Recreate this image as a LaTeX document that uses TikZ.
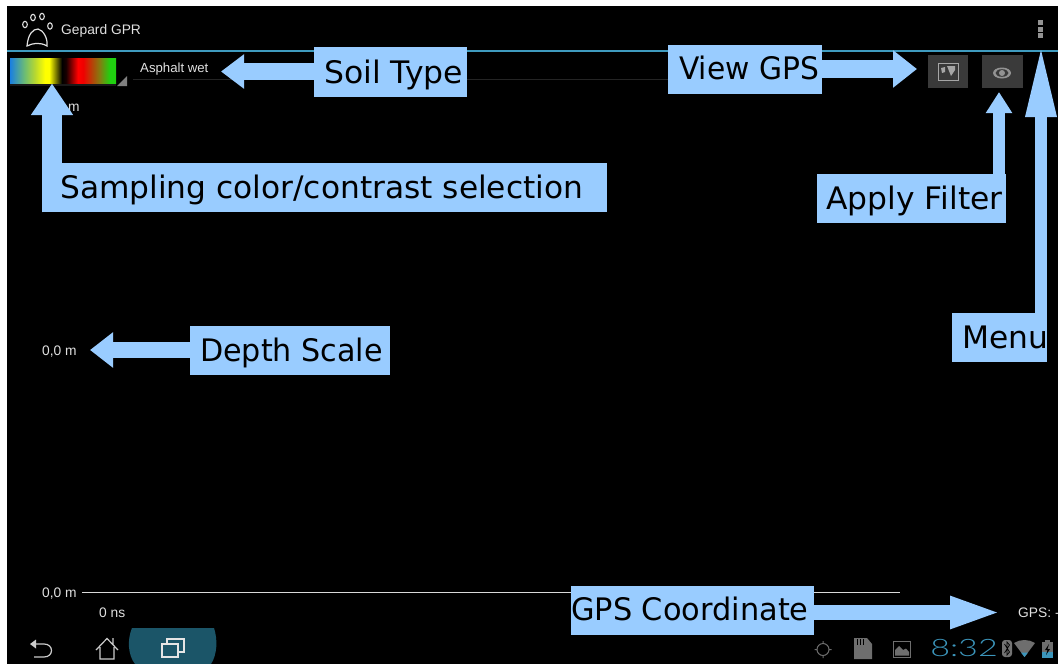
\documentclass[tikz,border=0pt]{standalone}
\usepackage{fontspec}
\usepackage{graphicx}
\setmainfont{DejaVu Sans}
\newfontfamily\uifont{Liberation Sans}
\newfontfamily\clockfont{Lato Light}
\usetikzlibrary{arrows.meta,calc}
\definecolor{callout}{HTML}{99CCFF}
\definecolor{holo}{HTML}{3F9BBF}
\definecolor{btn}{HTML}{3A3A3A}
\definecolor{teal}{HTML}{1B5568}
\definecolor{clockc}{HTML}{3C96BC}
\definecolor{sysgrey}{HTML}{6E6E6E}
\definecolor{sbBlue}{HTML}{1A80E0}
\definecolor{sbA}{HTML}{70BE70}
\definecolor{sbB}{HTML}{B8D830}
\definecolor{sbY}{HTML}{FFFF00}
\definecolor{sbK}{HTML}{000000}
\definecolor{sbC}{HTML}{180000}
\definecolor{sbR}{HTML}{FF0000}
\definecolor{sbD}{HTML}{F00000}
\definecolor{sbE}{HTML}{808010}
\definecolor{sbG}{HTML}{20D010}
\pgfdeclarehorizontalshading{scalebar}{100bp}{
 color(0bp)=(sbBlue);
 color(25bp)=(sbBlue);
 color(32.1bp)=(sbA);
 color(36.8bp)=(sbB);
 color(41.5bp)=(sbY);
 color(43.5bp)=(sbY);
 color(49.5bp)=(sbK);
 color(51.4bp)=(sbC);
 color(57bp)=(sbR);
 color(59.5bp)=(sbD);
 color(67.5bp)=(sbE);
 color(72bp)=(sbG);
 color(75bp)=(sbG);
 color(100bp)=(sbG)}
\newcommand{\lbltext}[4]{\makebox[#1][l]{\hspace{#2}\scalebox{#3}[1]{#4}}}
\tikzset{
 x=1pt,y=-1pt,
 lbl/.style={fill=callout,text=black,anchor=north west,inner xsep=0pt,inner ysep=0pt,
   text height=35pt,text depth=14pt,font=\fontsize{31}{36}\selectfont},
 callarrow/.style={draw=callout},
 ui/.style={text=white!88!black,inner sep=0pt,font=\uifont\fontsize{13.8}{15}\selectfont},
 syskey/.style={draw=white!80!black,line width=1.2pt,line join=miter},
 sysicon/.style={fill=sysgrey,draw=none},
}
\begin{document}
\begin{tikzpicture}
\useasboundingbox (0,0) rectangle (1058,664);
\clip (0,0) rectangle (1058,664);
\fill[white] (0,0) rectangle (1058,664);
\fill[black] (7,6) rectangle (1058,664);
% action bar
\draw[holo,line width=2pt] (7,51) -- (1058,51);
\node[ui,anchor=west] (title) at (61,30.5) {Gepard GPR};
\foreach \x/\y in {25/24.5,33/17.5,42/16.5,50/26}
  \draw[white!88!black,line width=1.1pt] (\x,\y) ellipse (2.3 and 3.2);
\draw[white!88!black,line width=1.2pt] (27,46) .. controls (28,34) and (33,29) .. (38,29)
  .. controls (43,30) and (48,38) .. (47,46) .. controls (40,42) and (33,43) .. (27,46) -- cycle;
\foreach \y in {20,26.5,33}
  \fill[gray!85] (1038,\y) rectangle (1043,\y+5);
% colour selection
\fill[white!10!black] (10,83) rectangle (116,86);
\shade[shading=scalebar] (10,58) rectangle (116,83);
\fill[gray] (117,86) -- (127,76) -- (127,86) -- cycle;
\draw[white!14!black,line width=1pt] (133,79) -- (668,79);
\node[ui,anchor=west,font=\uifont\fontsize{13.2}{15}\selectfont] (soilval) at (140,69.5) {Asphalt wet};
% buttons
\fill[btn] (928,55) rectangle (968,88);
\fill[btn] (982,55) rectangle (1023,88);
\draw[gray!70,line width=1pt] (938,63.5) rectangle (958,80);
\fill[gray!70] (941,68) -- (945,67) -- (945,72) -- (942,73) -- cycle;
\fill[gray!70] (947,66) -- (955,66) -- (955,70) -- (951,76) -- (949,71) -- cycle;
\fill[gray!85] (1002,73) ellipse (9 and 5.5);
\fill[btn] (1002,73) ellipse (6.5 and 3.8);
\fill[gray!85] (1002,73) circle (3);
% depth and time scale
\node[ui,anchor=west] (m0) at (68,107.5) {m};
\node[ui,anchor=west] (m1) at (42,351.5) {0,0 m};
\node[ui,anchor=west] (m2) at (42,593.5) {0,0 m};
\node[ui,anchor=west] (t0) at (99,613) {0 ns};
\node[ui,anchor=west] (gps) at (1018,613) {GPS: -};
\draw[white!85!black,line width=1pt] (82,592) -- (900,592);
% system bar
\fill[teal] (132,628) -- (214,628) .. controls (218,640) and (217,655) .. (211,664) -- (135,664) .. controls (128,655) and (127,640) .. (132,628) -- cycle;
\draw[white!80!black,line width=1.2pt] (34,644) -- (44,644) .. controls (54,644) and (54,657) .. (44,657) -- (34,657);
\fill[white!80!black] (30,644) -- (36,639.5) -- (36,648.5) -- cycle;
\draw[syskey] (96,650) -- (107,638.5) -- (118,650) (100,647) -- (100,659) -- (114,659) -- (114,647) (113,638) -- (113,644);
\draw[white!90!black,line width=1.3pt] (162,644) rectangle (178,657) (167,644) -- (167,639) -- (184,639) -- (184,652) -- (178,652);
\draw[sysgrey,line width=1pt] (823,649.5) circle (6) (823,641) -- (823,644) (823,655) -- (823,658) (814.5,649.5) -- (817.5,649.5) (828.5,649.5) -- (831.5,649.5);
\fill[sysicon] (854,638) -- (867,638) -- (872,644) -- (872,659) -- (854,659) -- cycle;
\draw[black,line width=.8pt] (857,639) -- (857,645) (860,639) -- (860,645) (863,639) -- (863,645);
\draw[sysgrey,line width=1pt] (893.5,641.5) rectangle (910.5,657);
\fill[sysicon] (895,655.5) -- (895,650) -- (899,646) -- (903,650) -- (906,648.5) -- (909,652) -- (909,655.5) -- cycle;
\node[text=clockc,inner sep=0pt,anchor=west,xscale=1.42,font=\clockfont\fontsize{24}{24}\selectfont] (clock) at (930,648.5) {8:32};
\fill[white!45!black,rounded corners=3pt] (1002,640) rectangle (1012,657);
\draw[black,line width=.7pt] (1004.5,644) -- (1009.5,652) -- (1007,655) -- (1007,642) -- (1009.5,645) -- (1004.5,653);
\fill[sysicon] (1014,643) .. controls (1020,639) and (1029,639) .. (1035,643) -- (1024.5,657) -- cycle;
\fill[clockc] (1021,652.5) -- (1028,652.5) -- (1024.5,657) -- cycle;
\fill[sysicon] (1042,642) rectangle (1053,658);
\fill[sysicon] (1045,640) rectangle (1050,642);
\fill[clockc] (1042,652) rectangle (1053,658);
\fill[black] (1049,644) -- (1045,650) -- (1047.5,650) -- (1046,655) -- (1050,649) -- (1047.5,649) -- cycle;
% callouts
\node[lbl,text height=36pt,text depth=14pt] (soil) at (314,47) {\lbltext{153pt}{10pt}{1.015}{Soil Type}};
\node[lbl,text height=34pt,text depth=15pt] (view) at (668,45) {\lbltext{154pt}{11pt}{0.958}{View GPS}};
\node[lbl] (samp) at (62,163) {\lbltext{545pt}{-2pt}{1.008}{Sampling color/contrast selection}};
\node[lbl] (filt) at (817,174) {\lbltext{188.5pt}{9pt}{1.012}{Apply Filter}};
\node[lbl] (menu) at (952,313) {\lbltext{95pt}{10pt}{1.01}{Menu}};
\node[lbl] (depth) at (190,326) {\lbltext{200pt}{10pt}{0.973}{Depth Scale}};
\node[lbl,text height=34pt,text depth=15pt] (gpsc) at (571,586) {\lbltext{243pt}{0pt}{0.98}{GPS Coordinate}};
\coordinate (soilT) at (221,71.5);
\coordinate (viewT) at (917,69);
\coordinate (sampT) at (52,83.5);
\coordinate (filtT) at (999,92);
\coordinate (menuT) at (1041,44);
\coordinate (depthT) at (90,350);
\coordinate (gpscT) at (1002,612.5);
\draw[callarrow,line width=17pt,-{Triangle[length=23pt,width=33pt]}] (soil.west |- soilT) -- (soilT);
\draw[callarrow,line width=18pt,-{Triangle[length=24pt,width=36pt]}] (view.east |- viewT) -- (viewT);
\draw[callarrow,line width=20pt,-{Triangle[length=31.5pt,width=40pt]}] (sampT |- samp.south) -- (sampT);
\draw[callarrow,line width=12pt,-{Triangle[length=21pt,width=25pt]}] (filtT |- filt.north) -- (filtT);
\draw[callarrow,line width=12pt,-{Triangle[length=73pt,width=28pt]}] (menuT |- menu.north) -- (menuT);
\draw[callarrow,line width=16pt,-{Triangle[length=23pt,width=34pt]}] (depth.west |- depthT) -- (depthT);
\draw[callarrow,line width=15pt,-{Triangle[length=52pt,width=29pt]}] (gpsc.east |- gpscT) -- (gpscT);
\end{tikzpicture}
\end{document}
